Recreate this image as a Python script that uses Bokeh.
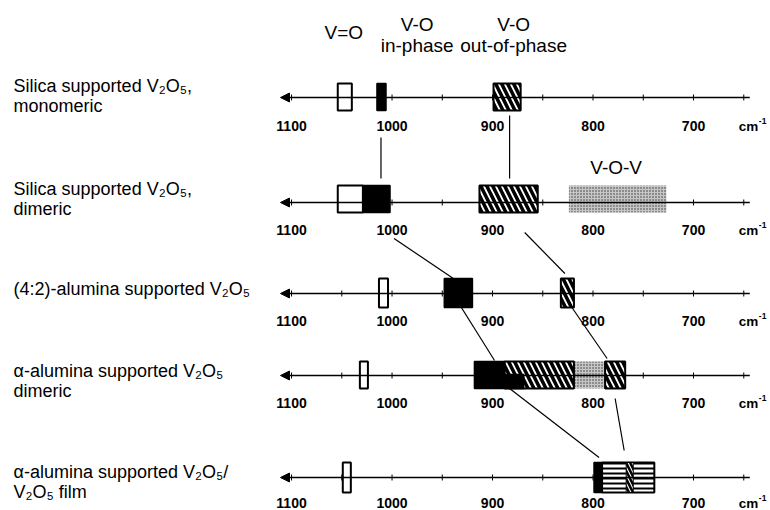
from bokeh.plotting import figure
from bokeh.models import Range1d, Arrow, NormalHead
from bokeh.core.properties import value
from bokeh.embed import file_html
from bokeh.resources import INLINE

# ---------------- data ----------------
sample_labels = [
    "Silica supported V₂O₅,\nmonomeric",
    "Silica supported V₂O₅,\ndimeric",
    "(4:2)-alumina supported V₂O₅",
    "α-alumina supported V₂O₅\ndimeric",
    "α-alumina supported V₂O₅/\nV₂O₅ film",
]
tick_values = [1100, 1050, 1000, 950, 900, 850, 800, 750, 700, 650]
tick_labels = [1100, 1000, 900, 800, 700]
unit_label = "cm"
unit_sup = "-1"

# bands: row index, high wavenumber, low wavenumber, kind
band_row  = [0, 0, 0,
             1, 1, 1, 1,
             2, 2, 2,
             3, 3, 3, 3, 3, 3,
             4, 4, 4, 4]
band_high = [1054, 1015, 899,
             1054, 1029, 913, 824,
             1013, 948, 832,
             1032, 888, 888, 918, 819, 788,
             1049, 799, 791, 767]
band_low  = [1040, 1006, 872,
             1029, 1002, 855, 727,
             1004, 920, 819,
             1024, 819, 869, 888, 788, 768,
             1041, 791, 739, 760]
band_kind = ["open", "solid", "hatch",
             "open", "solid", "hatch", "dots",
             "open", "solid", "hatch",
             "open", "hatch", "solid_low", "solid", "dots", "hatch",
             "open", "solid", "stripes", "narrow"]

# correlation links between rows (wavenumbers)
link_from_row = [0, 0, 1, 1, 2, 2, 3, 3]
link_from_wn  = [1011, 883, 998, 868, 931, 821, 883, 778]
link_to_row   = [1, 1, 2, 2, 3, 3, 4, 4]
link_to_wn    = [1011, 883, 939, 828, 898, 786, 794, 769]

mode_labels = ["V=O", "V-O\nin-phase", "V-O\nout-of-phase", "V-O-V"]
mode_wn     = [1048, 975, 879, 777]

# ---------------- layout ----------------
row_y = [97, 202, 293, 375, 477]
box_up = [14, 17, 15, 14, 15]
box_dn = [13, 10, 14, 13, 15]
tick_dy = [28, 27, 27, 27, 25]
label_y = [95, 198, 288, 380, 481]
link_dy0 = [40, 18, 36, 30, 14, 14, 13, 23]
link_dy1 = [-24, -24, -15, -20, -15, -17, -20, -27]
mode_y = [32, 34, 34, 167]

FONT = "Liberation Sans"

p = figure(width=770, height=510, output_backend="svg", toolbar_location=None,
           x_range=Range1d(1389.6, 623.4), y_range=Range1d(510, 0),
           min_border=0, outline_line_color=None)
p.axis.visible = False
p.grid.visible = False
p.background_fill_color = "white"

# axes per row
for r, y in enumerate(row_y):
    p.add_layout(Arrow(end=NormalHead(size=9, fill_color="black", line_color="black", line_width=1),
                       x_start=644, y_start=y, x_end=1111, y_end=y,
                       line_color="black", line_width=1.5))
    p.segment(x0=tick_values, x1=tick_values, y0=[y - 3] * len(tick_values),
              y1=[y + 3] * len(tick_values), line_color="black", line_width=1)
    ty = y + tick_dy[r]
    p.text(x=tick_labels, y=[ty] * len(tick_labels), text=[str(t) for t in tick_labels],
           text_align="center", text_baseline="middle", text_font=value(FONT),
           text_font_size="14px", text_font_style="bold", text_color="black")
    p.text(x=[655], y=[ty + 1], text=[unit_label], text_align="left", text_baseline="middle",
           text_font=value(FONT), text_font_size="13.5px", text_font_style="bold", text_color="black")
    p.text(x=[635], y=[ty - 5], text=[unit_sup], text_align="left", text_baseline="middle",
           text_font=value(FONT), text_font_size="8.5px", text_font_style="bold", text_color="black")

# bands
def band_geom(kinds):
    L, R, T, B = [], [], [], []
    for r, hi, lo, k in zip(band_row, band_high, band_low, band_kind):
        if k not in kinds:
            continue
        y = row_y[r]
        L.append(hi); R.append(lo)
        top = y - box_up[r]
        if k == "solid_low":
            top = y - 1
        T.append(top); B.append(y + box_dn[r])
    return dict(left=L, right=R, top=T, bottom=B)

p.quad(**band_geom({"dots"}), fill_color="#c6c6c6", line_color=None,
       hatch_pattern=".", hatch_scale=3, hatch_weight=1, hatch_color="#333333")
p.quad(**band_geom({"open"}), fill_color="white", line_color="black", line_width=2)
p.quad(**band_geom({"hatch"}), fill_color="white", line_color="black", line_width=2,
       hatch_pattern="\\", hatch_scale=12, hatch_weight=3.5, hatch_color="black")
p.quad(**band_geom({"stripes"}), fill_color="white", line_color="black", line_width=2,
       hatch_pattern="-", hatch_scale=5, hatch_weight=2, hatch_color="black")
p.quad(**band_geom({"narrow"}), fill_color="white", line_color="black", line_width=1,
       hatch_pattern="\\", hatch_scale=8, hatch_weight=2.5, hatch_color="black")
p.quad(**band_geom({"solid", "solid_low"}), fill_color="black", line_color="black", line_width=1.5)

# links
y0 = [row_y[r] + d for r, d in zip(link_from_row, link_dy0)]
y1 = [row_y[r] + d for r, d in zip(link_to_row, link_dy1)]
p.segment(x0=link_from_wn, y0=y0, x1=link_to_wn, y1=y1, line_color="black", line_width=1.2)

# labels
p.text(x=[1376.6] * len(sample_labels), y=label_y, text=sample_labels, text_align="left",
       text_baseline="middle", text_font=value(FONT), text_font_size="18px",
       text_line_height=1.0, text_color="black")
p.text(x=mode_wn, y=mode_y, text=mode_labels, text_align="center", text_baseline="middle",
       text_font=value(FONT), text_font_size="19px", text_line_height=1.0, text_color="black")

open("out.html", "w").write(file_html(p, INLINE))
